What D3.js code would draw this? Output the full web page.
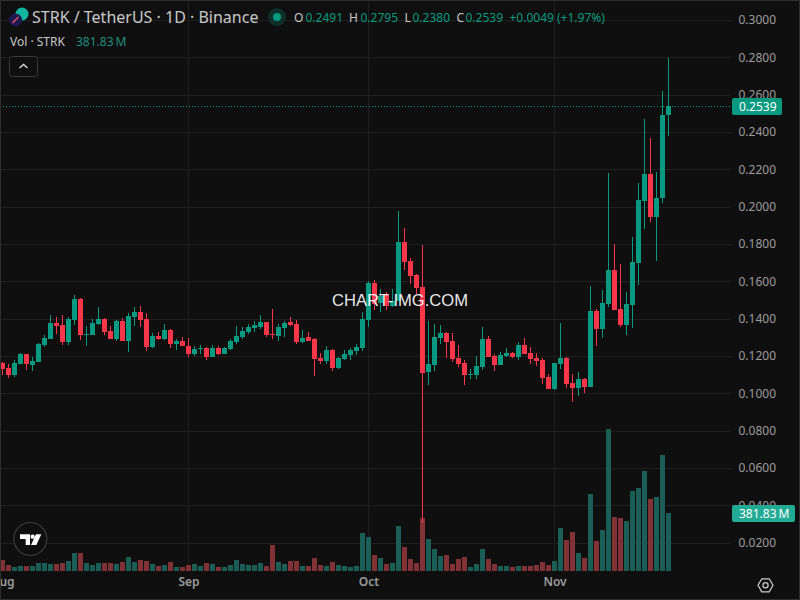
<!DOCTYPE html>
<html><head><meta charset="utf-8">
<script src="https://cdn.jsdelivr.net/npm/d3@7"></script>
<style>html,body{margin:0;padding:0;background:#0f0f0f;overflow:hidden}svg{display:block}text{font-family:"Noto Sans",sans-serif}</style>
</head><body><svg id="c" width="800" height="600"></svg>
<script>
const startDate = "2025-08-01";
const open = [.1161,.1136,.1098,.1157,.1211,.1152,.1168,.1259,.1291,.1377,.1366,.1275,.1393,.1505,.1312,.1312,.1371,.1398,.1334,.1291,.1387,.1280,.1409,.1436,.1398,.1248,.1307,.1291,.1339,.1264,.1280,.1254,.1211,.1237,.1243,.1195,.1243,.1211,.1237,.1275,.1302,.1329,.1350,.1355,.1382,.1318,.1307,.1350,.1382,.1371,.1275,.1302,.1291,.1189,.1173,.1232,.1136,.1184,.1205,.1227,.1243,.1393,.1591,.1484,.1532,.1468,.1495,.1811,.1709,.1634,.1570,.1114,.1152,.1297,.1323,.1281,.1189,.1163,.1098,.1098,.1141,.1291,.1200,.1152,.1200,.1216,.1195,.1259,.1216,.1189,.1179,.1088,.1023,.1156,.1189,.1055,.1028,.1076,.1033,.1440,.1344,.1478,.1660,.1451,.1365,.1473,.1698,.2030,.2175,.1945,.2046,.2491];
const high = [.1168,.1157,.1179,.1216,.1211,.1195,.1268,.1312,.1420,.1409,.1420,.1409,.1527,.1511,.1361,.1398,.1462,.1404,.1361,.1393,.1404,.1430,.1462,.1468,.1430,.1323,.1329,.1371,.1345,.1291,.1302,.1296,.1254,.1259,.1248,.1259,.1254,.1248,.1291,.1361,.1355,.1371,.1387,.1420,.1382,.1452,.1371,.1387,.1409,.1393,.1339,.1329,.1296,.1216,.1254,.1237,.1195,.1232,.1243,.1264,.1436,.1602,.1607,.1559,.1543,.1559,.1977,.1886,.1725,.1640,.1795,.1388,.1372,.1366,.1329,.1323,.1259,.1179,.1130,.1200,.1356,.1307,.1211,.1222,.1243,.1222,.1275,.1297,.1248,.1216,.1189,.1104,.1163,.1376,.1194,.1103,.1114,.1081,.1574,.1451,.1553,.2180,.1799,.1692,.1542,.1837,.2127,.2470,.2368,.2186,.2620,.2795];
const low = [.1098,.1082,.1087,.1157,.1125,.1120,.1168,.1248,.1291,.1318,.1259,.1259,.1366,.1286,.1254,.1312,.1366,.1312,.1291,.1280,.1280,.1221,.1361,.1355,.1227,.1243,.1286,.1286,.1243,.1232,.1254,.1195,.1200,.1211,.1179,.1195,.1205,.1211,.1232,.1264,.1291,.1318,.1329,.1345,.1302,.1291,.1280,.1302,.1361,.1264,.1270,.1280,.1093,.1157,.1157,.1120,.1130,.1179,.1179,.1205,.1227,.1356,.1447,.1436,.1447,.1463,.1495,.1661,.1586,.1532,.0305,.1045,.1120,.1264,.1189,.1168,.1141,.1045,.1077,.1077,.1125,.1195,.1120,.1152,.1195,.1189,.1179,.1211,.1157,.1147,.1050,.1023,.1018,.1130,.1028,.0953,.0985,.1001,.1033,.1253,.1296,.1462,.1446,.1355,.1312,.1349,.1580,.1880,.1918,.1709,.2020,.2380];
const close = [.1130,.1098,.1162,.1211,.1157,.1173,.1264,.1296,.1377,.1361,.1275,.1398,.1505,.1312,.1318,.1377,.1398,.1329,.1291,.1387,.1280,.1414,.1436,.1393,.1248,.1307,.1291,.1339,.1264,.1280,.1254,.1211,.1237,.1243,.1195,.1243,.1211,.1243,.1280,.1307,.1334,.1355,.1366,.1382,.1312,.1315,.1355,.1377,.1366,.1275,.1296,.1280,.1184,.1173,.1232,.1136,.1189,.1211,.1232,.1248,.1398,.1591,.1479,.1522,.1468,.1495,.1811,.1704,.1629,.1565,.1109,.1157,.1302,.1323,.1275,.1184,.1157,.1098,.1104,.1147,.1291,.1195,.1152,.1206,.1216,.1195,.1259,.1211,.1184,.1173,.1082,.1023,.1163,.1189,.1049,.1028,.1076,.1033,.1440,.1344,.1483,.1660,.1446,.1365,.1478,.1703,.2036,.2175,.1945,.2046,.2491,.2539];
const volumeM = [72,39,26,33,33,33,53,53,46,46,53,66,118,118,53,39,53,53,53,46,59,92,59,72,66,46,33,39,59,26,26,39,46,33,53,46,26,26,39,72,46,39,39,53,33,171,59,46,66,66,33,33,86,39,33,59,39,33,26,33,250,224,105,86,46,53,296,158,79,53,349,211,145,99,105,46,79,92,26,46,145,79,46,33,33,26,33,33,33,39,59,39,66,283,204,257,118,86,507,197,270,935,355,349,329,527,546,658,474,487,764,381.83];
const priceTicks = [.30,.28,.26,.24,.22,.20,.18,.16,.14,.12,.10,.08,.06,.04,.02];
const monthTicks = ["2025-08-01","2025-09-01","2025-10-01","2025-11-01"];
const lastClose = .2539;

const GREEN="#089981", RED="#f7364a", VGREEN="#1b5e57", VRED="#803236", GRID="#1f1f1f", TXT="#9c9c9c";
const svg=d3.select("#c");
svg.append("rect").attr("width",800).attr("height",600).attr("fill","#0f0f0f");

const t0=new Date(startDate+"T00:00:00Z");
const dates=open.map((_,i)=>d3.utcDay.offset(t0,i));
const x=d3.scaleUtc().domain([dates[0],dates[dates.length-1]]).range([2.5,668.5]);
const y=d3.scaleLinear().domain([.02,.30]).range([542.7,20]);
const v=d3.scaleLinear().domain([0,381.83]).range([571,513]);
const data=dates.map((d,i)=>({d,o:open[i],h:high[i],l:low[i],c:close[i],v:volumeM[i],up:close[i]>=open[i]}));
const monthDates=monthTicks.map(s=>new Date(s+"T00:00:00Z"));

// grid
const grid=svg.append("g");
grid.selectAll("line.h").data(priceTicks).join("line").attr("x1",0).attr("x2",731)
 .attr("y1",d=>Math.round(y(d))+.5).attr("y2",d=>Math.round(y(d))+.5).attr("stroke",GRID);
grid.selectAll("line.v").data(monthDates.slice(1)).join("line").attr("x1",d=>Math.floor(x(d))+.5).attr("x2",d=>Math.floor(x(d))+.5)
 .attr("y1",0).attr("y2",571).attr("stroke",GRID);

// right axis
const yAxis=d3.axisRight(y).tickValues(priceTicks).tickFormat(d3.format(".4f")).tickSize(0).tickPadding(0);
const ya=svg.append("g").attr("transform","translate(738.5,0)").call(yAxis);
ya.select(".domain").remove();
ya.selectAll("text").attr("fill",TXT).attr("font-size",12).style("font-family",'"Noto Sans"');

// volume
svg.append("g").selectAll("rect").data(data).join("rect")
 .attr("x",d=>Math.round(x(d.d)-2.5)).attr("width",5)
 .attr("y",d=>Math.round(v(d.v))).attr("height",d=>571-Math.round(v(d.v)))
 .attr("fill",d=>d.up?VGREEN:VRED);

// candles
const cg=svg.append("g");
cg.selectAll("rect.w").data(data).join("rect").attr("class","w")
 .attr("x",d=>Math.floor(x(d.d))).attr("width",1)
 .attr("y",d=>Math.round(y(d.h))).attr("height",d=>Math.max(1,Math.round(y(d.l))-Math.round(y(d.h))))
 .attr("fill",d=>d.up?GREEN:RED);
cg.selectAll("rect.b").data(data).join("rect").attr("class","b")
 .attr("x",d=>Math.round(x(d.d)-2.5)).attr("width",5)
 .attr("y",d=>Math.round(y(Math.max(d.o,d.c))))
 .attr("height",d=>Math.max(1,Math.round(y(Math.min(d.o,d.c)))-Math.round(y(Math.max(d.o,d.c)))))
 .attr("fill",d=>d.up?GREEN:RED);

// last price line
const ly=Math.round(y(lastClose))+.5;
svg.append("line").attr("x1",0).attr("x2",731).attr("y1",ly).attr("y2",ly)
 .attr("stroke",GREEN).attr("stroke-dasharray","1 2");
svg.append("rect").attr("x",732).attr("y",98).attr("width",50).attr("height",17).attr("rx",2).attr("fill",GREEN);
svg.append("text").attr("x",739).attr("y",111).attr("fill","#fff").attr("font-size",12).text(d3.format(".4f")(lastClose));
svg.append("rect").attr("x",732).attr("y",505).attr("width",63).attr("height",17).attr("rx",2).attr("fill","#22ab94");
svg.append("text").attr("x",739).attr("y",518).attr("fill","#fff").attr("font-size",12).text("381.83\u2009M");

// month axis
const xAxis=d3.axisBottom(x).tickValues(monthDates).tickFormat(d3.utcFormat("%b")).tickSize(0).tickPadding(0);
const xa=svg.append("g").attr("transform","translate(0,577)").call(xAxis);
xa.select(".domain").remove();
xa.selectAll("text").attr("fill",TXT).attr("font-size",12).attr("font-weight",600).style("font-family",'"Noto Sans"');

// header
const head=svg.append("g");
head.append("circle").attr("cx",22).attr("cy",14).attr("r",6.5).attr("fill","#12b5a0");
head.append("circle").attr("cx",15.5).attr("cy",20).attr("r",6.5).attr("fill","#1c1a4e");
head.append("path").attr("d","M12.5 23 L18.5 17").attr("stroke","#e8506a").attr("stroke-width",1.5);
head.append("text").attr("x",32).attr("y",23).attr("fill","#c9c9c9").attr("font-size",16).text("STRK / TetherUS · 1D · Binance");
head.append("circle").attr("cx",277).attr("cy",17).attr("r",9).attr("fill","#0d302b");
head.append("circle").attr("cx",277).attr("cy",17).attr("r",4).attr("fill",GREEN);
const hdr=[["O",294,"#c9c9c9"],["0.2491",305.5,GREEN],["H",349,"#c9c9c9"],["0.2795",360.5,GREEN],["L",404.5,"#c9c9c9"],["0.2380",412.5,GREEN],["C",456.5,"#c9c9c9"],["0.2539",465.5,GREEN],["+0.0049",509.5,GREEN],["(+1.97%)",557,GREEN]];
head.selectAll("text.o").data(hdr).join("text").attr("class","o").attr("x",d=>d[1]).attr("y",22).attr("fill",d=>d[2]).attr("font-size",12).text(d=>d[0]);
head.append("text").attr("x",10).attr("y",45.5).attr("fill","#c9c9c9").attr("font-size",12).text("Vol · STRK");
head.append("text").attr("x",76).attr("y",45.5).attr("fill","#1f8f80").attr("font-size",12).text("381.83\u2009M");
head.append("rect").attr("x",9.5).attr("y",56.5).attr("width",28).attr("height",20).attr("rx",3).attr("fill","#0f0f0f").attr("stroke","#3a3a3a");
head.append("path").attr("d","M19.5 68 L23.5 64.5 L27.5 68").attr("fill","none").attr("stroke","#d8d8d8").attr("stroke-width",1.4);

// TV logo
const tv=svg.append("g");
tv.append("circle").attr("cx",30.3).attr("cy",539).attr("r",16.5).attr("fill","#0f0f0f").attr("stroke","#3c3c3c").attr("stroke-width",1.2);
const tvg=tv.append("g").attr("transform","translate(0,510) scale(.3333)").attr("fill","#fff");
tvg.append("path").attr("d","M60 73H90V105H77V87H60Z");
tvg.append("circle").attr("cx",98).attr("cy",80).attr("r",6.5);
tvg.append("path").attr("d","M108 73H124L109 105H93Z");

// settings hexagon
svg.append("path").attr("d",d3.line()(d3.range(6).map(i=>[765.5+7.5*Math.cos(i*Math.PI/3),585.3+7.5*Math.sin(i*Math.PI/3)]))+"Z")
 .attr("fill","none").attr("stroke","#d0d0d0").attr("stroke-width",1.2);
svg.append("circle").attr("cx",765.5).attr("cy",585.3).attr("r",2.6).attr("fill","none").attr("stroke","#d0d0d0").attr("stroke-width",1.2);

// watermark
svg.append("text").attr("x",400).attr("y",305.5).attr("text-anchor","middle").attr("fill","#fff").attr("fill-opacity",.92)
 .style("font-family",'"Liberation Sans"').attr("font-size",16.6).text("CHART-IMG.COM");

// frame
svg.append("rect").attr("x",.5).attr("y",.5).attr("width",799).attr("height",599).attr("fill","none").attr("stroke","#2e2e2e");
</script></body></html>
